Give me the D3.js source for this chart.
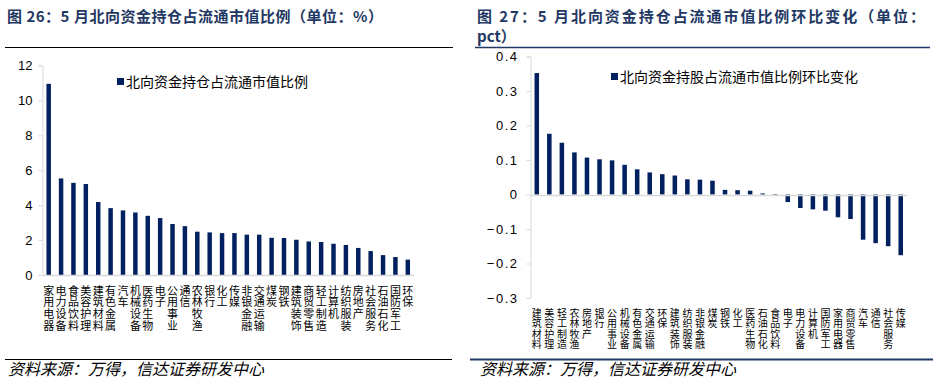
<!DOCTYPE html>
<html>
<head>
<meta charset="utf-8">
<script src="https://cdn.jsdelivr.net/npm/d3@7"></script>
<style>
  body { margin: 0; background: #fff; }
  svg { display: block; }
</style>
</head>
<body>
<svg id="chart" width="942" height="381"></svg>
<script>
// left chart: holding share of float market cap, May
var leftCats = ['家用电器', '电力设备', '食品饮料', '美容护理', '建筑材料', '有色金属', '汽车', '机械设备',
    '医药生物', '电子', '公用事业', '通信', '农林牧渔', '银行', '化工', '传媒', '非银金融', '交通运输',
    '煤炭', '钢铁', '建筑装饰', '商贸零售', '轻工制造', '计算机', '纺织服装', '房地产', '社会服务',
    '石油石化', '国防军工', '环保'];
var leftVals = [10.95, 5.53, 5.28, 5.21, 4.18, 3.83, 3.70, 3.58, 3.39, 3.26, 2.92, 2.80, 2.48, 2.44,
    2.40, 2.40, 2.31, 2.31, 2.13, 2.12, 2.02, 1.92, 1.89, 1.79, 1.72, 1.55, 1.37, 1.14, 1.03, 0.88];
var leftTicks = [0, 2, 4, 6, 8, 10, 12];

// right chart: month-on-month change (pct)
var rightCats = ['建筑材料', '美容护理', '轻工制造', '农林牧渔', '房地产', '银行', '公用事业', '机械设备',
    '有色金属', '交通运输', '环保', '建筑装饰', '纺织服装', '非银金融', '煤炭', '钢铁', '化工', '医药生物',
    '石油石化', '食品饮料', '电子', '电力设备', '计算机', '国防军工', '家用电器', '商贸零售', '汽车',
    '通信', '社会服务', '传媒'];
var rightVals = [0.352, 0.176, 0.150, 0.122, 0.107, 0.102, 0.099, 0.086, 0.073, 0.064, 0.059, 0.055,
    0.044, 0.043, 0.040, 0.0135, 0.0125, 0.011, 0.003, -0.003, -0.022, -0.039, -0.043, -0.047, -0.066,
    -0.071, -0.131, -0.141, -0.150, -0.176];
var rightTicks = [-0.3, -0.2, -0.1, 0, 0.1, 0.2, 0.3, 0.4];

var barColor = '#002060';
var axisColor = '#d9d9d9';
var cjk = '"Noto Sans CJK SC", sans-serif';
var latin = '"Liberation Sans", Arial, sans-serif';

var svg = d3.select('#chart');

// ---------- headers and footers ----------
svg.append('text')
    .attr('x', 7).attr('y', 22)
    .attr('textLength', 376).attr('lengthAdjust', 'spacing')
    .style('font-family', cjk).style('font-size', '15px').style('font-weight', 'bold')
    .style('fill', '#1f3864')
    .text('图 26：5 月北向资金持仓占流通市值比例（单位：%）');
svg.append('line')
    .attr('x1', 5).attr('x2', 453).attr('y1', 47.5).attr('y2', 47.5)
    .style('stroke', '#000').style('stroke-width', 1);

svg.append('text')
    .attr('x', 477).attr('y', 22)
    .attr('textLength', 448).attr('lengthAdjust', 'spacing')
    .style('font-family', cjk).style('font-size', '15px').style('font-weight', 'bold')
    .style('fill', '#1f3864')
    .text('图 27：5 月北向资金持仓占流通市值比例环比变化（单位：');
svg.append('text')
    .attr('x', 477).attr('y', 42)
    .style('font-family', cjk).style('font-size', '15px').style('font-weight', 'bold')
    .style('fill', '#1f3864')
    .text('pct）');
svg.append('line')
    .attr('x1', 475).attr('x2', 930).attr('y1', 47.5).attr('y2', 47.5)
    .style('stroke', '#1f3864').style('stroke-width', 1.5);

svg.append('line')
    .attr('x1', 5).attr('x2', 452).attr('y1', 359.5).attr('y2', 359.5)
    .style('stroke', '#000').style('stroke-width', 1.2);
svg.append('line')
    .attr('x1', 470).attr('x2', 933).attr('y1', 359.5).attr('y2', 359.5)
    .style('stroke', '#1f3864').style('stroke-width', 2);

[8, 480].forEach(function(x) {
    svg.append('text')
        .attr('x', x).attr('y', 375)
        .style('font-family', cjk).style('font-size', '16px').style('font-style', 'italic')
        .style('fill', '#000')
        .text('资料来源：万得，信达证券研发中心');
});

// ---------- drawing helper ----------
function drawBars(opt) {
    var g = svg.append('g');

    var x = d3.scaleBand()
        .domain(opt.cats)
        .range([opt.x0, opt.x1])
        .paddingInner(0.64)
        .paddingOuter(0.32);

    var y = d3.scaleLinear()
        .domain(opt.domain)
        .range([opt.yBottom, opt.yTop]);

    // y axis
    var yAxis = d3.axisLeft(y)
        .tickValues(opt.ticks)
        .tickSize(4)
        .tickPadding(opt.tickPad)
        .tickFormat(opt.fmt);
    var ya = g.append('g')
        .attr('transform', 'translate(' + opt.x0 + ',0)')
        .call(yAxis);
    ya.select('.domain').style('stroke', axisColor);
    ya.selectAll('.tick line').style('stroke', axisColor);
    ya.selectAll('.tick text')
        .style('font-family', latin).style('font-size', opt.tickFont).style('fill', '#000')
        .style('letter-spacing', opt.tickSpacing);

    // bars
    g.selectAll('rect.bar')
        .data(opt.vals)
        .enter().append('rect')
        .attr('class', 'bar')
        .attr('x', function(d, i) { return x(opt.cats[i]); })
        .attr('width', x.bandwidth())
        .attr('y', function(d) { return y(Math.max(0, d)); })
        .attr('height', function(d) { return Math.abs(y(d) - y(0)); })
        .style('fill', barColor);

    // zero line
    g.append('line')
        .attr('x1', opt.x0).attr('x2', opt.x1)
        .attr('y1', Math.round(y(0)) + 0.5).attr('y2', Math.round(y(0)) + 0.5)
        .style('stroke', axisColor).style('stroke-width', 1.5);

    // category labels, written top to bottom
    g.selectAll('text.lab')
        .data(opt.cats)
        .enter().append('text')
        .attr('class', 'lab')
        .attr('x', function(d) { return x(d) + x.bandwidth() / 2; })
        .attr('y', opt.labelTop)
        .style('writing-mode', 'vertical-rl')
        .style('font-family', cjk).style('font-size', opt.labelFont)
        .style('letter-spacing', opt.labelSpacing).style('fill', '#000')
        .text(function(d) { return d; });

    // legend
    g.append('rect')
        .attr('x', opt.legX).attr('y', opt.legY - 4)
        .attr('width', 7).attr('height', 7)
        .style('fill', barColor);
    g.append('text')
        .attr('x', opt.legX + 9).attr('y', opt.legY + 5)
        .style('font-family', cjk).style('font-size', '14px').style('fill', '#000')
        .text(opt.legend);
}

drawBars({
    cats: leftCats, vals: leftVals, ticks: leftTicks,
    domain: [0, 12], x0: 42.5, x1: 414, yBottom: 275, yTop: 65.5,
    fmt: d3.format('d'), tickPad: 6, tickFont: '13px', tickSpacing: '0px',
    labelTop: 285, labelFont: '11px', labelSpacing: '0.7px',
    legX: 117, legY: 82, legend: '北向资金持仓占流通市值比例'
});

drawBars({
    cats: rightCats, vals: rightVals, ticks: rightTicks,
    domain: [-0.3, 0.4], x0: 530.5, x1: 907, yBottom: 298, yTop: 56.5,
    fmt: function(d) { return d === 0 ? '0' : d3.format('.1f')(d).replace('-', '−'); },
    tickPad: 8, tickFont: '13px', tickSpacing: '1.5px',
    labelTop: 308, labelFont: '10px', labelSpacing: '0.5px',
    legX: 611, legY: 77, legend: '北向资金持股占流通市值比例环比变化'
});
</script>
</body>
</html>
